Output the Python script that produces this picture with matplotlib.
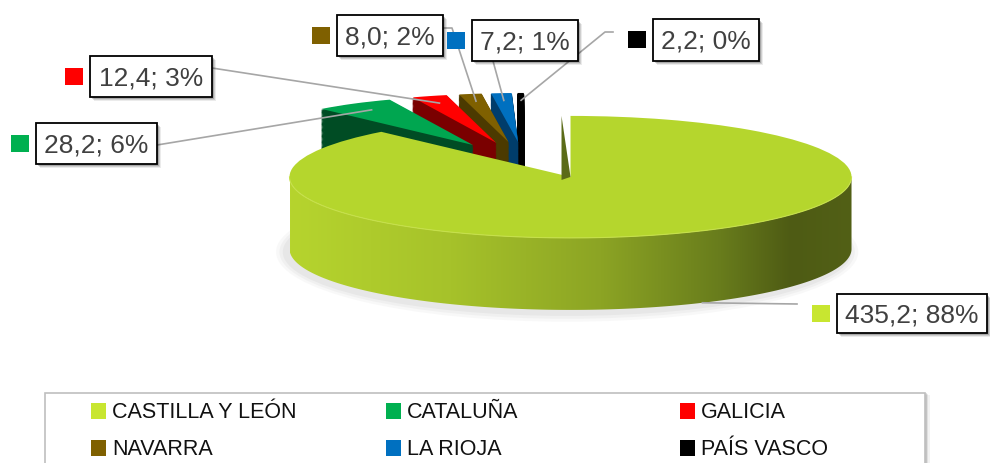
import numpy as np
import matplotlib.pyplot as plt
from matplotlib.patches import Polygon, Rectangle, Ellipse

# data
regions = ['CASTILLA Y LEÓN', 'CATALUÑA', 'GALICIA', 'NAVARRA', 'LA RIOJA', 'PAÍS VASCO']
values = [435.2, 28.2, 12.4, 8.0, 7.2, 2.2]
title = '2023'

top_colors = ['#b5d62d', '#00a650', '#ff0000', '#7f6000', '#0070c0', '#000000']
side_colors = ['#8fa824', '#004c24', '#7a0000', '#4c3a00', '#003d6b', '#000000']
key_colors = ['#c8e630', '#00b050', '#ff0000', '#7f6000', '#0070c0', '#000000']

# label boxes (x0, y0, x1, y1) in pixels, and leader-line bends near the boxes
label_boxes = [(837, 295, 987, 334), (36, 124, 157, 165), (90, 57, 212, 98),
               (337, 16, 443, 57), (472, 21, 578, 62), (653, 20, 759, 62)]
leader_start = [[(797, 305)],
                [(157, 146)],
                [(212, 69)],
                [(443, 29), (452, 29)],
                [(493, 62)],
                [(613, 33), (605, 33)]]

W, H = 990, 464
CX0, CY0 = 535, 158     # pie centre in pixels
RX, RY = 281, 61        # ellipse radii in pixels
DEPTH = 72              # thickness in pixels
EXPLODE = 0.35
BACK_R = 0.8            # back slices look smaller (perspective)
BACK_C = (-0.035, -0.1)  # and sit a little lower

fig = plt.figure(figsize=(W / 100, H / 100), dpi=100)
ax = fig.add_axes([0, 0, 1, 1])
dz = DEPTH / RY
explode = [EXPLODE] * len(values)


def to_px(x, y):
    return CX0 + RX * x, CY0 - RY * y


# side walls of the small slices: stacked layers
n_layers = 60
for k in range(n_layers, 0, -1):
    wl, _ = ax.pie(values, explode=explode, colors=side_colors, startangle=90,
                   counterclock=False, center=(BACK_C[0], BACK_C[1] - dz * k / n_layers),
                   radius=BACK_R, wedgeprops=dict(linewidth=0.6))
    wl[0].set_visible(False)
    for w in wl[1:]:
        w.set_edgecolor(w.get_facecolor())
        w.set_zorder(2)

# top faces of small slices
small, _ = ax.pie(values, explode=explode, colors=top_colors, startangle=90,
                  counterclock=False, center=BACK_C, radius=BACK_R,
                  wedgeprops=dict(linewidth=0))
small[0].set_visible(False)
for w in small[1:]:
    w.set_zorder(3)

# big slice top face
wedges, _ = ax.pie(values, explode=explode, colors=top_colors, startangle=90,
                   counterclock=False, wedgeprops=dict(linewidth=0))
for w in wedges[1:]:
    w.set_visible(False)
big = wedges[0]
big.set_zorder(6)

# big slice wall with gradient
cx, cy = big.center
r = big.r
t = np.linspace(np.pi, 2 * np.pi, 300)
top_arc = np.column_stack([cx + r * np.cos(t), cy + r * np.sin(t)])
bot_arc = np.column_stack([cx + r * np.cos(t[::-1]), cy - dz + r * np.sin(t[::-1])])
wall = Polygon(np.vstack([top_arc, bot_arc]), closed=True, facecolor='none',
               edgecolor='none', transform=ax.transData)
ax.add_patch(wall)

# gradient stops in pixel x
stop_x = [290, 450, 600, 720, 790, 853]
stop_c = np.array([(182, 212, 46), (166, 194, 42), (140, 164, 36),
                   (104, 124, 28), (78, 91, 20), (82, 96, 22)]) / 255.0
px = np.linspace(CX0 + (cx - r) * RX, CX0 + (cx + r) * RX, 400)
grad = np.stack([np.interp(px, stop_x, stop_c[:, i]) for i in range(3)], axis=-1)[None, :, :]
im = ax.imshow(grad, extent=[cx - r, cx + r, cy - dz - r, cy], aspect='auto',
               interpolation='bilinear', zorder=5)
im.set_clip_path(wall)

# light ridge between top and wall
ax.plot(top_arc[:, 0], top_arc[:, 1], color='#c6e04a', lw=0.8, zorder=6.5)

# thin visible cut face at 12 o'clock
sl = 9 / RX
ax.add_patch(Polygon([(cx - sl, cy + r), (cx - sl, cy - 0.05), (cx, cy)],
                     closed=True, facecolor='#5b6b18', edgecolor='none', zorder=6.4))

# soft shadow under the pie
for i, a in enumerate([0.05, 0.06, 0.08]):
    g = (3 - i) * 0.012
    ax.add_patch(Ellipse((cx - 0.012, cy - dz - 0.05), 2 * r + 2 * g, 2 * r + 8 * g,
                         facecolor='#808080', edgecolor='none', alpha=a, zorder=1))

ax.set_aspect('auto')
ax.set_xlim(-CX0 / RX, (W - CX0) / RX)
ax.set_ylim((CY0 - H) / RY, CY0 / RY)
ax.axis('off')

# pie ends of the leader lines, from the wedge geometry
ends = []
a = np.deg2rad(-62)
ends.append(to_px(cx + r * np.cos(a), cy - dz + r * np.sin(a)))
for w in small[1:]:
    m = np.deg2rad((w.theta1 + w.theta2) / 2)
    wx, wy = w.center
    ends.append(to_px(wx + 0.85 * w.r * np.cos(m), wy + 0.85 * w.r * np.sin(m)))

# overlay in pixel coordinates for labels and legend
ov = fig.add_axes([0, 0, 1, 1], zorder=5)
ov.set_xlim(0, W)
ov.set_ylim(H, 0)
ov.axis('off')

ov.text(510, 4, title, ha='center', va='bottom', fontsize=22, fontweight='bold',
        color='#3f6e52')

total = sum(values)
for i, v in enumerate(values):
    pts = np.array(leader_start[i] + [ends[i]])
    ov.plot(pts[:, 0], pts[:, 1], color='#a6a6a6', lw=1.2, zorder=1)
    x0, y0, x1, y1 = label_boxes[i]
    # shadow
    for s, al in [(4, 0.08), (3, 0.12), (2, 0.18)]:
        ov.add_patch(Rectangle((x0 + s, y0 + s), x1 - x0, y1 - y0, facecolor='black',
                               edgecolor='none', alpha=al, zorder=2))
    ov.add_patch(Rectangle((x0, y0), x1 - x0, y1 - y0, facecolor='white',
                           edgecolor='black', lw=1.3, zorder=3))
    txt = f"{v:.1f}".replace('.', ',') + f"; {round(100 * v / total)}%"
    ov.text((x0 + x1) / 2, (y0 + y1) / 2 + 1, txt, ha='center', va='center',
            fontsize=19, color='#404040', family='Liberation Sans', zorder=4)
    ov.add_patch(Rectangle((x0 - 25, (y0 + y1) / 2 - 9), 18, 17, facecolor=key_colors[i],
                           edgecolor='none', zorder=3))

# legend frame
for s, al in [(5, 0.05), (3, 0.08), (1.5, 0.12)]:
    ov.add_patch(Rectangle((45 + s, 394 + s * 0.3), 880, 80, facecolor='black',
                           edgecolor='none', alpha=al, zorder=1))
ov.add_patch(Rectangle((45, 394), 880, 80, facecolor='white', edgecolor='#bfbfbf',
                       lw=1.2, zorder=2))
col_x = [91, 386, 680]
row_y = [412, 449]
for i, name in enumerate(regions):
    x = col_x[i % 3]
    y = row_y[i // 3]
    ov.add_patch(Rectangle((x, y - 8), 15, 16, facecolor=key_colors[i],
                           edgecolor='none', zorder=3))
    ov.text(x + 21, y + 1, name, ha='left', va='center', fontsize=15.5,
            color='#111111', family='Liberation Sans', zorder=3)

fig.savefig('out.png', dpi=100)
